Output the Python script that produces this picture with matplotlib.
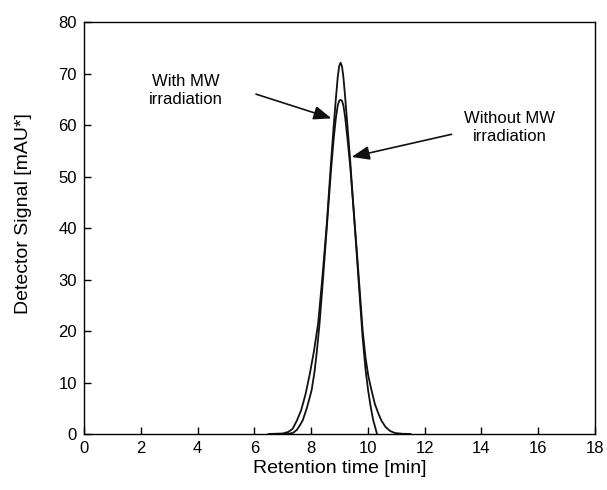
import matplotlib
matplotlib.use("Agg")
import matplotlib.pyplot as plt

plt.rcParams['font.family'] = ['Liberation Sans', 'DejaVu Sans']

# chromatogram: retention time [min], signal [mAU*]
t_with = [6.50, 7.00, 7.20, 7.35, 7.50, 7.65, 7.80, 7.95, 8.10, 8.25, 8.40, 8.55,
          8.70, 8.80, 8.88, 8.94, 8.99, 9.04, 9.09, 9.14, 9.20, 9.28, 9.38, 9.50,
          9.60, 9.71, 9.82, 9.92, 10.01, 10.10, 10.19, 10.28, 10.36]
s_with = [0.0, 0.1, 0.4, 1.0, 2.6, 4.6, 7.6, 11.5, 16.0, 21.5, 30.5, 40.5,
          52.5, 60.0, 65.5, 69.3, 71.4, 72.1, 71.4, 69.3, 65.5, 60.0, 53.0, 43.5,
          35.7, 27.0, 18.5, 12.5, 8.5, 5.3, 2.7, 0.9, -0.8]

t_without = [6.60, 7.00, 7.20, 7.36, 7.50, 7.62, 7.71, 7.85, 8.02, 8.12, 8.20, 8.30,
             8.42, 8.56, 8.70, 8.80, 8.88, 8.94, 8.99, 9.04, 9.09, 9.14, 9.20, 9.28,
             9.38, 9.50, 9.62, 9.72, 9.82, 9.92, 10.02, 10.13, 10.25, 10.37, 10.48,
             10.62, 10.78, 10.95, 11.20, 11.50]
s_without = [0.0, 0.0, 0.05, 0.2, 0.8, 1.8, 2.7, 5.0, 8.5, 12.0, 15.8, 21.5,
             30.0, 40.5, 51.0, 57.5, 61.6, 63.8, 64.7, 64.9, 64.7, 63.8, 61.6, 57.5,
             52.0, 43.5, 35.0, 27.5, 20.0, 14.8, 11.2, 8.5, 5.8, 4.0, 2.6,
             1.4, 0.6, 0.2, 0.05, 0.0]

xticks = list(range(0, 19, 2))
yticks = list(range(0, 81, 10))

fig = plt.figure(figsize=(6.07, 4.9), dpi=100)
ax = fig.add_axes([0.1384, 0.1143, 0.8416, 0.8407])

ax.plot(t_with, s_with, color='#111111', lw=1.3)
ax.plot(t_without, s_without, color='#111111', lw=1.3)

ax.set_xlim(0, 18)
ax.set_ylim(0, 80)
ax.set_xticks(xticks)
ax.set_yticks(yticks)
ax.tick_params(direction='in', length=5, width=1, labelsize=12, pad=5,
               top=False, right=False)
for sp in ax.spines.values():
    sp.set_linewidth(1.0)

ax.set_xlabel('Retention time [min]', fontsize=14, labelpad=3)
ax.set_ylabel('Detector Signal [mAU*]', fontsize=14)
ax.yaxis.set_label_coords(-0.102, 0.534)

arrow = dict(arrowstyle='-|>,head_length=0.9,head_width=0.35', color='#111111', lw=1.2,
             shrinkA=0, shrinkB=0)
ax.annotate('', xy=(8.72, 61.3), xytext=(6.06, 66.0), arrowprops=arrow, fontsize=12)
ax.annotate('', xy=(9.43, 53.8), xytext=(12.95, 58.2), arrowprops=arrow, fontsize=12)
ax.text(3.6, 66.8, 'With MW\nirradiation', fontsize=12, ha='center', va='center',
        linespacing=1.25)
ax.text(15.0, 59.5, 'Without MW\nirradiation', fontsize=12, ha='center', va='center',
        linespacing=1.25)

fig.savefig('out.png', dpi=100)
